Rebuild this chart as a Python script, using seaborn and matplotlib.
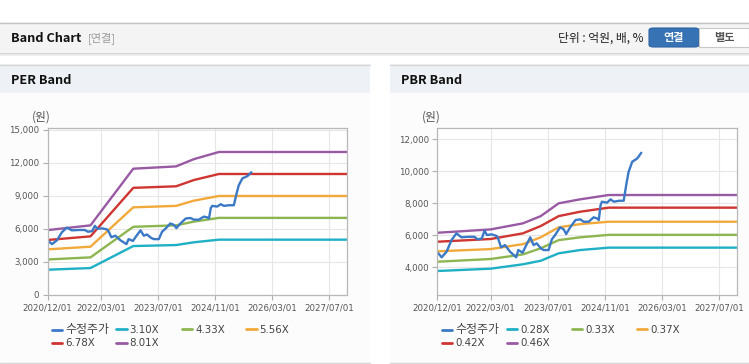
import matplotlib
matplotlib.use("Agg")
import matplotlib.pyplot as plt
from matplotlib.patches import Rectangle, FancyBboxPatch
from matplotlib.lines import Line2D
import matplotlib.ticker as mticker
import seaborn as sns
import pandas as pd

# ---------------- data ----------------
price_dates = ["2020-12-10", "2021-01-07", "2021-02-18", "2021-04-01", "2021-05-13", "2021-06-25",
               "2021-08-22", "2021-10-13", "2021-11-10", "2021-12-16", "2022-01-07", "2022-01-28",
               "2022-03-10", "2022-04-22", "2022-05-03", "2022-05-28", "2022-07-01", "2022-08-13",
               "2022-10-04", "2022-10-22", "2022-11-28", "2022-12-25", "2023-02-01", "2023-03-01",
               "2023-03-28", "2023-05-01", "2023-05-25", "2023-07-07", "2023-08-04", "2023-09-01",
               "2023-10-13", "2023-11-13", "2023-12-04", "2024-01-07", "2024-02-22", "2024-04-01",
               "2024-05-01", "2024-06-13", "2024-07-25", "2024-08-22", "2024-09-07", "2024-09-22",
               "2024-10-04", "2024-11-16", "2024-12-16", "2025-01-13", "2025-02-25", "2025-04-07",
               "2025-05-01", "2025-05-19", "2025-06-19", "2025-08-01", "2025-09-04"]
price_values = [4875, 4625, 4975, 5700, 6125, 5875,
                5910, 5910, 5750, 5810, 6290, 6020,
                6060, 5955, 5810, 5250, 5390, 4975,
                4625, 5080, 4915, 5330, 5875, 5390,
                5500, 5200, 5080, 5080, 5750, 6020,
                6500, 6375, 6080, 6500, 6955, 7000,
                6850, 6850, 7125, 7060, 6955, 7890,
                8100, 8040, 8250, 8100, 8160, 8160,
                9250, 9975, 10600, 10810, 11160]

per_dates = ["2020-12-01", "2021-12-01", "2022-12-01", "2023-12-01", "2024-05-01", "2024-12-01", "2027-12-01"]
per_310 = [2300, 2450, 4450, 4540, 4790, 5030, 5030]
per_433 = [3230, 3420, 6200, 6330, 6670, 7010, 7010]
per_556 = [4150, 4390, 7970, 8100, 8575, 9000, 9000]
per_678 = [5000, 5330, 9740, 9880, 10450, 11000, 11000]
per_801 = [5900, 6330, 11480, 11690, 12350, 13000, 13000]
per_labels = ["3.10X", "4.33X", "5.56X", "6.78X", "8.01X"]

pbr_dates = ["2020-12-01", "2022-03-01", "2022-12-01", "2023-05-01", "2023-10-01", "2024-04-01", "2024-12-01", "2027-12-01"]
pbr_028 = [3770, 3915, 4190, 4410, 4875, 5080, 5230, 5230]
pbr_033 = [4350, 4520, 4810, 5190, 5700, 5875, 6030, 6030]
pbr_037 = [5000, 5140, 5450, 5875, 6500, 6700, 6850, 6850]
pbr_042 = [5600, 5770, 6125, 6580, 7200, 7475, 7730, 7730]
pbr_046 = [6160, 6370, 6750, 7200, 8000, 8250, 8520, 8520]
pbr_labels = ["0.28X", "0.33X", "0.37X", "0.42X", "0.46X"]

price_label = "수정주가"
x_tick_labels = ["2020/12/01", "2022/03/01", "2023/07/01", "2024/11/01", "2026/03/01", "2027/07/01"]
per_yticks = [0, 3000, 6000, 9000, 12000, 15000]
pbr_yticks = [4000, 6000, 8000, 10000, 12000]

# ---------------- style ----------------
band_colors = ["#1fb0c6", "#8db650", "#f2a93b", "#cf3531", "#985aa3"]
price_color = "#3b79c6"

sns.set_theme(style="white")
plt.rcParams["font.family"] = ["DejaVu Sans", "Noto Sans CJK KR"]

W, H = 749, 364
fig = plt.figure(figsize=(W / 100, H / 100), dpi=100)
fig.patch.set_facecolor("white")


def fx(px):
    return px / W


def fy(py):
    return 1 - py / H


def frect(x0, y0, x1, y1, **kw):
    r = Rectangle((fx(x0), fy(y1)), fx(x1) - fx(x0), fy(y0) - fy(y1),
                  transform=fig.transFigure, **kw)
    fig.add_artist(r)
    return r


def fline(x0, x1, y, color, lw=1.0):
    fig.add_artist(Line2D([fx(x0), fx(x1)], [fy(y), fy(y)], transform=fig.transFigure,
                          color=color, lw=lw))


# header bar
frect(0, 22, 749, 53, facecolor="#f4f4f4", edgecolor="none", zorder=0)
fline(0, 749, 22.5, "#c4c4c4", 1.0)
fline(0, 749, 53.5, "#cfcfcf", 1.2)
fline(0, 749, 55, "#ececec", 1.2)
hdr = ["Noto Sans CJK KR", "DejaVu Sans"]
fig.text(fx(11), fy(38), "Band Chart", fontsize=9.2, fontweight="bold", family=hdr,
         color="#111", va="center", ha="left")
fig.text(fx(88), fy(38), "[연결]", fontsize=8, family=hdr, color="#9a9a9a", va="center", ha="left")
fig.text(fx(643), fy(38), "단위 : 억원, 배, %", fontsize=8.5, family=hdr, color="#222",
         va="center", ha="right")
# buttons
fig.add_artist(FancyBboxPatch((fx(649), fy(47)), fx(699) - fx(649), fy(28) - fy(47),
                              boxstyle="round,pad=0,rounding_size=0.006",
                              transform=fig.transFigure, facecolor="#3672b4",
                              edgecolor="#2d64a3", lw=0.8))
frect(699, 28, 749, 47, facecolor="white", edgecolor="#c8c8c8", lw=0.8)
fig.text(fx(674), fy(37.5), "연결", fontsize=8, fontweight="bold", family=hdr, color="white",
         va="center", ha="center")
fig.text(fx(724), fy(37.5), "별도", fontsize=8, fontweight="bold", family=hdr, color="#555",
         va="center", ha="center")

# panels
for (x0, x1, title) in [(0, 370, "PER Band"), (390, 749, "PBR Band")]:
    frect(x0, 64, x1, 93, facecolor="#eef1f6", edgecolor="none", zorder=0)
    frect(x0, 93, x1, 363, facecolor="#fcfcfc", edgecolor="none", zorder=0)
    fline(x0, x1, 64.5, "#d6d6d6", 1.0)
    fline(x0, x1, 363, "#d6d6d6", 1.0)
    fig.text(fx(x0 + 11), fy(80), title, fontsize=9.2, fontweight="bold", family=hdr,
             color="#111", va="center", ha="left")


def make_axes(x0, x1, y0, y1):
    ax = fig.add_axes([fx(x0), fy(y1), fx(x1) - fx(x0), fy(y0) - fy(y1)])
    ax.set_facecolor("white")
    return ax


def style_axes(ax, yticks, ylim):
    xt = pd.to_datetime([s.replace("/", "-") for s in x_tick_labels])
    ax.set_xlim(pd.Timestamp("2020-12-01"), pd.Timestamp("2027-12-01"))
    ax.set_xticks(xt)
    ax.set_xticklabels(x_tick_labels)
    ax.set_ylim(*ylim)
    ax.set_yticks(yticks)
    ax.yaxis.set_major_formatter(mticker.FuncFormatter(lambda v, p: f"{int(v):,}"))
    ax.grid(True, color="#e6e6e6", lw=0.8)
    ax.set_axisbelow(True)
    for s in ax.spines.values():
        s.set_color("#b8b8b8")
        s.set_linewidth(0.9)
    ax.tick_params(axis="both", which="major", labelsize=6.2, colors="#b0b0b0",
                   labelcolor="#555555", length=3.5, width=0.8, direction="out", pad=2.5,
                   bottom=True, left=True)
    ax.set_xlabel("")
    ax.set_ylabel("")


def draw(ax, bdates, bands, labels):
    bd = pd.to_datetime(bdates)
    for vals, lab, col in zip(bands, labels, band_colors):
        sns.lineplot(x=bd, y=vals, ax=ax, color=col, linewidth=1.7, label=lab, legend=False)
    sns.lineplot(x=pd.to_datetime(price_dates), y=price_values, ax=ax, color=price_color,
                 linewidth=1.7, label=price_label, legend=False)


def legend(ax, labels, xs, rows):
    lines = ax.get_lines()
    handles = [lines[-1]] + list(lines[:5])
    names = [price_label] + labels
    for i, (h, n) in enumerate(zip(handles, names)):
        r = 0 if i < 4 else 1
        x = xs[i % 4]
        leg = fig.legend([Line2D([], [], color=h.get_color(), lw=2.0)], [n],
                         loc="center left", bbox_to_anchor=(fx(x - 1), fy(rows[r])),
                         bbox_transform=fig.transFigure, frameon=False, fontsize=7.4,
                         handlelength=1.05, handletextpad=0.25, borderpad=0, borderaxespad=0,
                         labelcolor="#444")
        if i == 0:
            leg.get_texts()[0].set_fontsize(8.6)


# PER
ax1 = make_axes(47.7, 347.3, 128, 295)
draw(ax1, per_dates, [per_310, per_433, per_556, per_678, per_801], per_labels)
style_axes(ax1, per_yticks, (0, 15180))
fig.text(fx(41.7), fy(117.5), "(원)", fontsize=8.5, family=["Noto Sans CJK KR"], color="#555",
         ha="center", va="center")
legend(ax1, per_labels, [52.7, 117.3, 182.7, 247.3], [330, 343.3])

# PBR
ax2 = make_axes(437.3, 737.3, 128.3, 295)
draw(ax2, pbr_dates, [pbr_028, pbr_033, pbr_037, pbr_042, pbr_046], pbr_labels)
style_axes(ax2, pbr_yticks, (2270, 12690))
fig.text(fx(431.7), fy(117.5), "(원)", fontsize=8.5, family=["Noto Sans CJK KR"], color="#555",
         ha="center", va="center")
legend(ax2, pbr_labels, [442.7, 507.7, 572.7, 637.7], [330, 343.3])

fig.savefig("out.png", dpi=100, facecolor="white")
